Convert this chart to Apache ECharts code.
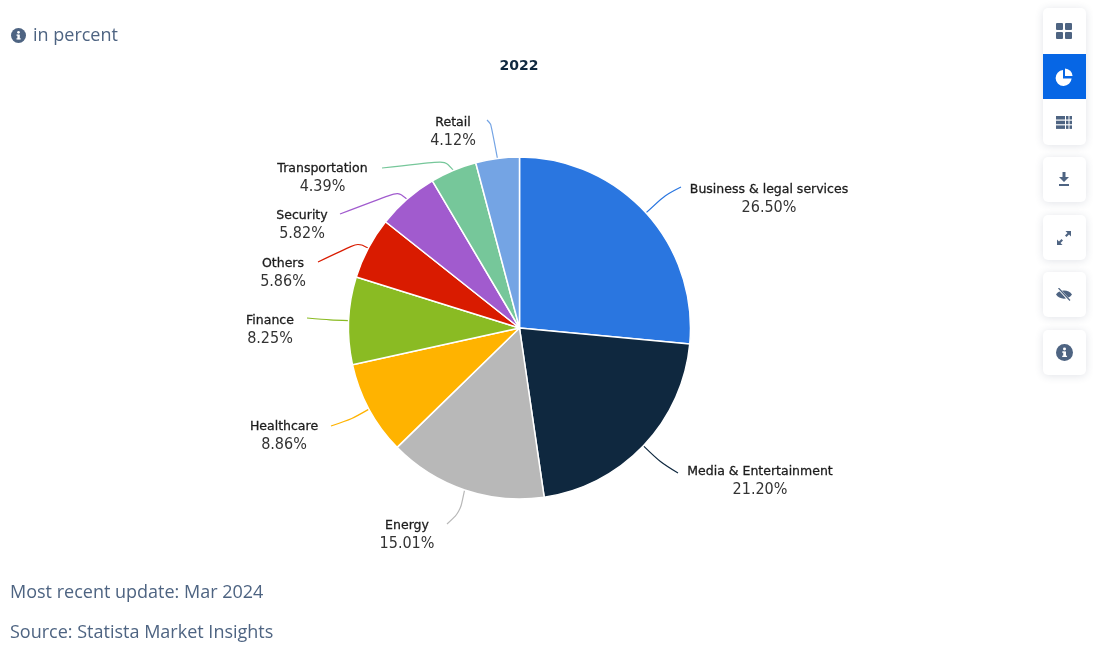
<!DOCTYPE html>
<html>
<head>
<meta charset="utf-8">
<title>2022</title>
<script src="https://cdn.jsdelivr.net/npm/echarts@6/dist/echarts.min.js"></script>
<style>
html, body {margin: 0; padding: 0; background: #fff; overflow: hidden;}
#chart {position: absolute; left: 0; top: 0; width: 1093px; height: 663px;}
.note {position: absolute; left: 10px; font: 18px "Open Sans", sans-serif; color: #4e6482; white-space: nowrap;}
.note svg {position: absolute; left: 1px; top: 6px;}
.box {position: absolute; left: 1043px; width: 43px; background: #fff; border-radius: 5px; box-shadow: 0 1px 8px rgba(40,60,90,0.14); overflow: hidden;}
.btn {height: 45px; display: flex; align-items: center; justify-content: center; padding-right: 1px;}
.btn.first {height: 46px;}
.btn.on {background: #0666e5;}
</style>
</head>
<body>
<div id="chart"></div>
<div class="note" style="top:22px"><svg width="15" height="15" viewBox="0 0 16 16"><circle cx="8" cy="8" r="8" fill="#4e6482"/><rect x="6.8" y="7" width="2.6" height="5" fill="#fff"/><rect x="5.8" y="7" width="2" height="1.2" fill="#fff"/><rect x="5.8" y="11" width="4.6" height="1.2" fill="#fff"/><circle cx="8" cy="4.6" r="1.4" fill="#fff"/></svg><span style="margin-left:23px">in percent</span></div>
<div class="note" style="top:579px">Most recent update: Mar 2024</div>
<div class="note" style="top:619px">Source: Statista Market Insights</div>

<div class="box" style="top:8px">
	<div class="btn first"><svg width="16" height="16" viewBox="0 0 16 16" fill="#4e6482"><rect x="0" y="0" width="7" height="7" rx="1"/><rect x="9" y="0" width="7" height="7" rx="1"/><rect x="0" y="9" width="7" height="7" rx="1"/><rect x="9" y="9" width="7" height="7" rx="1"/></svg></div>
	<div class="btn on"><svg width="18" height="18" viewBox="0 0 18 18" fill="#fff"><path d="M8 2 A8 8 0 1 0 16.6 10.5 L8 10.5 Z"/><path d="M10 0.5 A8 8 0 0 1 17.6 8 L10 8 Z"/></svg></div>
	<div class="btn first"><svg width="16" height="13" viewBox="0 0 16 13" fill="#4e6482"><rect x="0" y="0" width="9" height="3.5"/><rect x="10" y="0" width="2.5" height="3.5"/><rect x="13.5" y="0" width="2.5" height="3.5"/><rect x="0" y="4.7" width="9" height="3.5"/><rect x="10" y="4.7" width="2.5" height="3.5"/><rect x="13.5" y="4.7" width="2.5" height="3.5"/><rect x="0" y="9.4" width="9" height="3.5"/><rect x="10" y="9.4" width="2.5" height="3.5"/><rect x="13.5" y="9.4" width="2.5" height="3.5"/></svg></div>
</div>
<div class="box" style="top:157px"><div class="btn"><svg width="12" height="15" viewBox="0 0 12 15" fill="#4e6482"><path d="M4.5 0 H7.5 V5 H11 L6 10 L1 5 H4.5 Z"/><rect x="1" y="12" width="10" height="2"/></svg></div></div>
<div class="box" style="top:215px"><div class="btn"><svg width="14" height="14" viewBox="0 0 14 14" fill="#4e6482"><path d="M8.5 0 H14 V5.5 L12 3.5 L9.5 6 L8 4.5 L10.5 2 Z"/><path d="M5.5 14 H0 V8.5 L2 10.5 L4.5 8 L6 9.5 L3.5 12 Z"/></svg></div></div>
<div class="box" style="top:272px"><div class="btn"><svg width="16" height="13" viewBox="0 0 16 13"><path d="M0 6.5 C3 1 13 1 16 6.5 C13 12 3 12 0 6.5 Z" fill="#4e6482"/><path d="M2.5 0.5 L13.5 12.5" stroke="#fff" stroke-width="2.4"/><path d="M2.5 0 L14 12.5" stroke="#4e6482" stroke-width="1.2"/></svg></div></div>
<div class="box" style="top:330px"><div class="btn"><svg width="17" height="17" viewBox="0 0 16 16"><circle cx="8" cy="8" r="8" fill="#4e6482"/><rect x="6.8" y="7" width="2.6" height="5" fill="#fff"/><rect x="5.8" y="7" width="2" height="1.2" fill="#fff"/><rect x="5.8" y="11" width="4.6" height="1.2" fill="#fff"/><circle cx="8" cy="4.6" r="1.4" fill="#fff"/></svg></div></div>

<script>
var categories = ['Business & legal services', 'Media & Entertainment', 'Energy', 'Healthcare', 'Finance', 'Others', 'Security', 'Transportation', 'Retail'];
var shares = [26.50, 21.20, 15.01, 8.86, 8.25, 5.86, 5.82, 4.39, 4.12];
var slice_colors = ['#2a76e0', '#0f283f', '#b8b8b8', '#ffb300', '#8abb23', '#d91b00', '#a15bce', '#76c79a', '#74a4e4'];
var chart_title = '2022';

// where each label sits, same order as categories
var label_spots = [[769, 198.5], [760, 480.5], [407, 534.5], [284, 435.5], [270, 329.5], [283, 272.5], [302, 224.5], [322.5, 178], [453, 131.5]];
// leader line: bend and end, the start comes from the pie itself
var line_paths = [
	[[665, 195], [681, 187]],
	[[660, 462], [678, 473]],
	[[460, 512], [447, 524]],
	[[352, 419], [331, 426]],
	[[330, 320], [307, 318]],
	[[358, 243], [318, 262]],
	[[398, 192], [340, 214]],
	[[445, 161], [382, 168]],
	[[491, 124], [487, 120]]
];

var myChart = echarts.init(document.getElementById('chart'), null, {renderer: 'canvas'});

var pie_data = [];
for (var i = 0; i < categories.length; i++) {
	pie_data.push({name: categories[i], value: shares[i], itemStyle: {color: slice_colors[i]}});
}

var options = {
	animation: false,
	title: {
		text: chart_title, left: 514, top: 54, textAlign: 'center',
		textStyle: {fontFamily: 'DejaVu Sans', fontSize: 14, fontWeight: 'bold', color: '#0f283f'}
	},
	series: [{
		type: 'pie',
		center: [519.5, 328],
		radius: [0, 171],
		startAngle: 90,
		clockwise: true,
		data: pie_data,
		itemStyle: {borderColor: '#fff', borderWidth: 1.5},
		emphasis: {disabled: true},
		label: {
			position: 'outside',
			formatter: function (p) {
				return '{n|' + p.name + '}\n{v|' + p.value.toFixed(2) + '%}';
			},
			rich: {
				n: {fontFamily: 'DejaVu Sans', fontSize: 12.5, color: '#1c1c1c', textBorderColor: '#1c1c1c', textBorderWidth: 0.3, lineHeight: 18, align: 'center'},
				v: {fontFamily: 'DejaVu Sans Condensed, DejaVu Sans', fontSize: 16, color: '#333', lineHeight: 18, align: 'center'}
			}
		},
		labelLine: {show: true, length: 12, length2: 30, smooth: 0.3, lineStyle: {width: 1.2}},
		labelLayout: function (params) {
			var spot = label_spots[params.dataIndex];
			var path = line_paths[params.dataIndex];
			return {
				x: spot[0], y: spot[1], align: 'center', verticalAlign: 'middle',
				labelLinePoints: [params.labelLinePoints[0], path[0], path[1]]
			};
		}
	}]
};

myChart.setOption(options, true);
</script>
</body>
</html>
